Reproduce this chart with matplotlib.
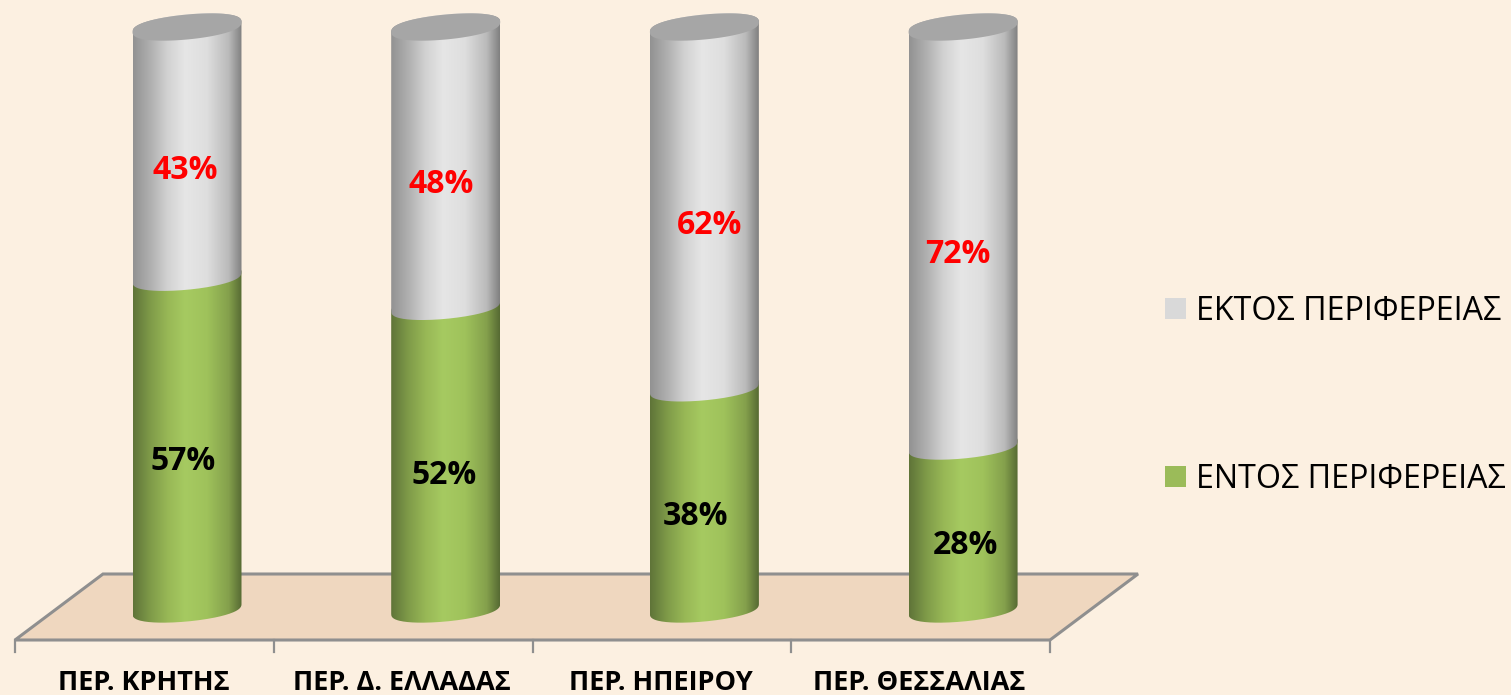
import numpy as np
from matplotlib import pyplot as plt
from matplotlib.patches import Patch, Polygon, PathPatch
from matplotlib.path import Path

categories = ['ΠΕΡ. ΚΡΗΤΗΣ', 'ΠΕΡ. Δ. ΕΛΛΑΔΑΣ', 'ΠΕΡ. ΗΠΕΙΡΟΥ', 'ΠΕΡ. ΘΕΣΣΑΛΙΑΣ']
entos = [57, 52, 38, 28]
ektos = [43, 48, 62, 72]
entos_name = 'ΕΝΤΟΣ ΠΕΡΙΦΕΡΕΙΑΣ'
ektos_name = 'ΕΚΤΟΣ ΠΕΡΙΦΕΡΕΙΑΣ'

W, H = 1511, 695
BG = '#fcf0e1'
FLOOR = '#efd7bf'
LINE = '#8f8f8f'
plt.rcParams['font.family'] = ['Open Sans', 'DejaVu Sans']

# pixel layout of the value axis
x_step = 258.7
x0_px = 187.0
y0_px = 609.0
y100_px = 27.0
y_step = (y0_px - y100_px) / 100

half_w = 54.5 / x_step
ell_b = 12.5 / y_step
ell_tilt = 5 / y_step

grey_stops = ['#929292', '#b0b0b0', '#d2d2d2', '#e6e6e6', '#dedede', '#bababa', '#808080']
green_stops = ['#5f7438', '#7f9b49', '#98b856', '#a6ca61', '#9fc25b', '#84a04c', '#566a33']
stop_pos = [0, 0.16, 0.32, 0.48, 0.68, 0.88, 1]


def px_x(px):
    return (px - x0_px) / x_step


def px_y(px):
    return (y0_px - px) / y_step


def gradient(stops):
    rgb = np.array([plt.matplotlib.colors.to_rgb(c) for c in stops])
    t = np.linspace(0, 1, 256)
    return np.dstack([np.interp(t, stop_pos, rgb[:, i]) for i in range(3)])


def arc(cx, cy, t):
    # slightly squarer than an ellipse, the reference ends are blunt
    s = np.sign(np.sin(t)) * np.abs(np.sin(t)) ** 0.8
    return np.column_stack([cx + half_w * np.cos(t), cy + ell_b * s + ell_tilt * np.cos(t)])


def segment(ax, cx, low, high, stops):
    lower = arc(cx, low, np.linspace(np.pi, 2 * np.pi, 80))
    upper = arc(cx, high, np.linspace(0, np.pi, 80))
    pts = np.vstack([lower, upper, lower[:1]])
    clip = PathPatch(Path(pts), transform=ax.transData, fc='none', ec='none')
    ax.add_patch(clip)
    im = ax.imshow(gradient(stops), extent=[cx - half_w, cx + half_w, low - 4 * ell_b, high + 4 * ell_b],
                   aspect='auto', zorder=3, interpolation='bilinear')
    im.set_clip_path(clip)


fig = plt.figure(figsize=(W / 100, H / 100), dpi=100, facecolor=BG)
ax = fig.add_axes([0, 0, 1, 1])
ax.axis('off')

floor = [(15, 640), (103, 574), (1138, 574), (1050, 640)]
ax.add_patch(Polygon([(px_x(a), px_y(b)) for a, b in floor], closed=True, fc=FLOOR, ec=LINE, lw=2.2, zorder=1))

tick_px = [15 + i * (1050 - 15) / 4 for i in range(5)]
for p in tick_px:
    ax.plot([px_x(p), px_x(p)], [px_y(640), px_y(652)], color=LINE, lw=1.6, zorder=1)

for i, name in enumerate(categories):
    segment(ax, i, 0, entos[i], green_stops)
    segment(ax, i, entos[i], entos[i] + ektos[i], grey_stops)
    # top cap
    t = np.linspace(0, 2 * np.pi, 160)
    ax.add_patch(Polygon(arc(i, entos[i] + ektos[i], t), closed=True, fc='#a6a6a6', ec='none', zorder=4))
    # category labels sit between the ticks, left of the cylinders
    mid = (tick_px[i] + tick_px[i + 1]) / 2
    ax.text(px_x(mid) - 1 / x_step, px_y(683), name, ha='center', va='center', fontsize=19.5, fontweight='bold',
            color='#000000')

# data labels sit a little off the segment centres in the reference
green_dx = [-4, -2, -9, 2]
grey_dx = [-2, -5, 5, -5]
for i in range(4):
    ax.text(i + green_dx[i] / x_step, entos[i] / 2 - 18 / y_step, f'{entos[i]}%', ha='center', va='center',
            fontsize=23, fontweight='bold', color='black', zorder=5)
    ax.text(i + grey_dx[i] / x_step, entos[i] + ektos[i] / 2 - 18 / y_step, f'{ektos[i]}%', ha='center', va='center',
            fontsize=23, fontweight='bold', color='#ff0000', zorder=5)

ax.set_xlim(px_x(0), px_x(W))
ax.set_ylim(px_y(H), px_y(0))

handles = [Patch(fc='#d9d9d9', ec='none', label=ektos_name), Patch(fc='#9bbb59', ec='none', label=entos_name)]
ax.legend(handles=handles, loc='upper left', bbox_to_anchor=(1165 / W, 1 - 295 / H), frameon=False,
          fontsize=23.2, handlelength=0.65, handleheight=0.65, handletextpad=0.3, labelspacing=4.18,
          borderpad=0, borderaxespad=0)

fig.savefig('out.png', dpi=100, facecolor=BG)
